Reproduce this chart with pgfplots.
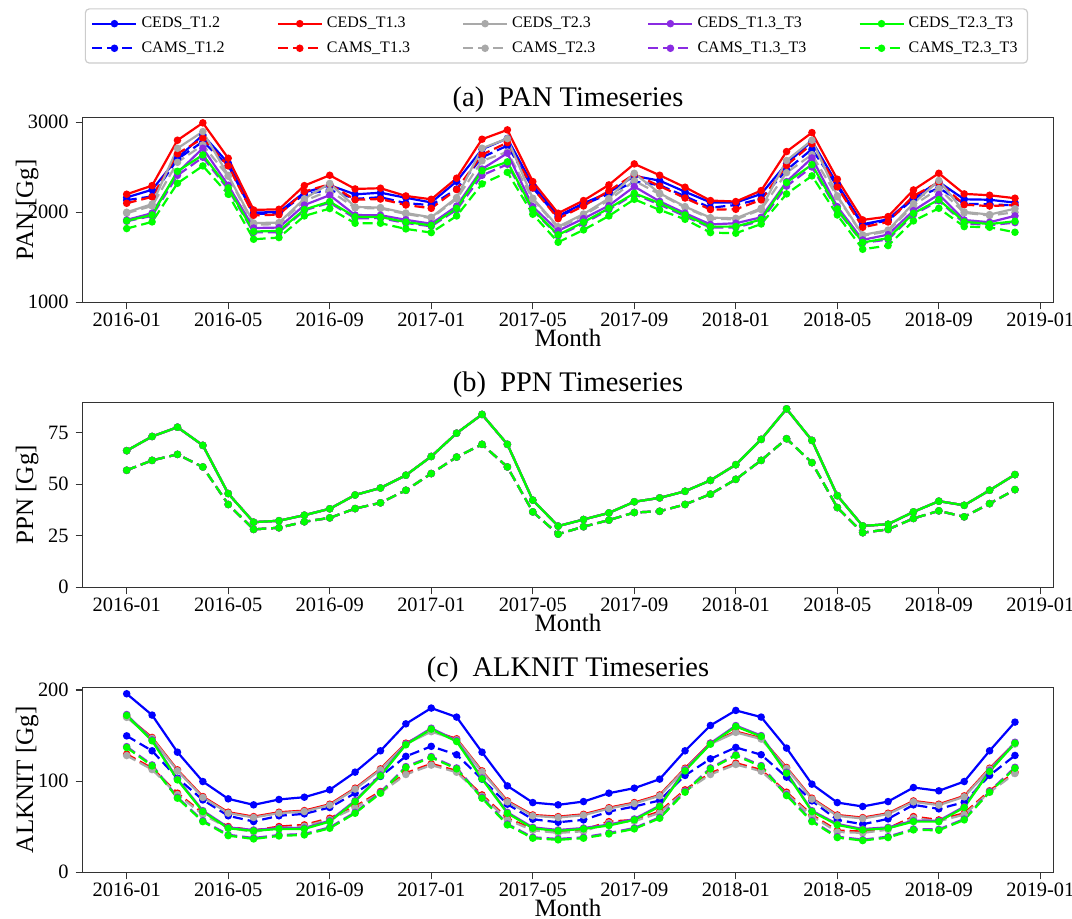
\documentclass[border=0pt]{standalone}
\usepackage{fontspec}
\setmainfont{Liberation Serif}
\usepackage{pgfplots}
\usepackage{pgfplotstable}
\pgfplotsset{compat=1.18}

\definecolor{cblue}{RGB}{0,0,255}
\definecolor{cred}{RGB}{255,0,0}
\definecolor{cgray}{RGB}{169,169,169}
\definecolor{cpurple}{RGB}{138,43,226}
\definecolor{cgreen}{RGB}{0,255,0}

% Panel (a) PAN
\pgfplotstableread{
m R BS BD RD GS GD PS PD NS ND
0 2200 2165 2135 2100 2000 1990 1915 1900 1905 1819
1 2296 2250 2176 2171 2090 2070 1990 1960 1970 1893
2 2800 2600 2590 2650 2710 2555 2440 2410 2455 2322
3 2993 2859 2785 2822 2896 2748 2711 2611 2637 2515
4 2600 2545 2520 2515 2410 2400 2300 2255 2270 2200
5 2026 1996 1981 1966 1880 1861 1825 1776 1786 1700
6 2033 2003 1988 1973 1885 1868 1830 1778 1793 1719
7 2296 2220 2200 2230 2150 2126 2080 2021 2030 1959
8 2411 2300 2248 2311 2320 2241 2190 2106 2118 2041
9 2259 2199 2149 2139 2059 2049 1969 1934 1949 1878
10 2267 2217 2167 2147 2052 2042 1967 1935 1947 1878
11 2181 2161 2101 2081 1991 1981 1916 1881 1891 1815
12 2144 2109 2079 2044 1944 1934 1872 1844 1854 1774
13 2378 2343 2258 2253 2163 2148 2068 2028 2043 1959
14 2811 2700 2610 2640 2711 2571 2480 2410 2461 2315
15 2915 2820 2740 2774 2818 2670 2656 2533 2560 2444
16 2341 2300 2270 2270 2156 2146 2063 2020 2030 1978
17 1989 1959 1944 1929 1839 1824 1794 1739 1749 1667
18 2130 2100 2085 2070 1980 1965 1930 1875 1890 1804
19 2304 2219 2204 2238 2154 2134 2074 2029 2044 1959
20 2537 2404 2341 2422 2433 2350 2285 2200 2211 2144
21 2411 2351 2301 2291 2211 2201 2121 2086 2101 2026
22 2278 2228 2178 2158 2063 2053 1990 1955 1970 1922
23 2130 2110 2050 2030 1940 1930 1865 1830 1840 1774
24 2119 2107 2081 2033 1933 1920 1878 1830 1841 1767
25 2241 2204 2150 2137 2044 2030 1944 1905 1920 1870
26 2674 2540 2470 2520 2574 2440 2340 2290 2330 2204
27 2885 2790 2700 2760 2800 2640 2603 2503 2529 2404
28 2367 2312 2287 2282 2182 2172 2062 2022 2037 1970
29 1915 1867 1860 1833 1748 1740 1693 1660 1665 1589
30 1952 1922 1907 1892 1802 1787 1752 1697 1712 1630
31 2248 2163 2148 2182 2098 2078 2018 1973 1988 1904
32 2433 2337 2270 2333 2353 2263 2198 2128 2140 2044
33 2204 2144 2094 2084 2004 1994 1914 1879 1894 1841
34 2189 2139 2089 2069 1974 1964 1889 1857 1869 1833
35 2156 2107 2076 2081 2040 2000 1960 1885 1900 1778
}\pan

% Panel (b) PPN: S = all CEDS runs, D = all CAMS runs
\pgfplotstableread{
m S D
0 66.3 56.8
1 73.2 61.6
2 77.7 64.5
3 68.9 58.4
4 45.5 40.2
5 31.6 28.1
6 32.3 28.9
7 35.0 31.8
8 38.1 33.7
9 44.8 38.2
10 48.2 41.0
11 54.4 47.1
12 63.5 55.2
13 74.8 63.2
14 83.9 69.4
15 69.4 58.4
16 42.3 36.6
17 29.7 25.8
18 32.9 29.4
19 36.1 32.6
20 41.5 36.3
21 43.4 36.9
22 46.6 40.2
23 51.9 45.2
24 59.5 52.4
25 71.8 61.6
26 86.6 72.1
27 71.3 60.5
28 44.5 38.7
29 29.8 26.5
30 30.6 28.1
31 36.6 33.4
32 41.8 37.1
33 39.8 34.2
34 47.1 40.6
35 54.7 47.4
}\ppn

% Panel (c) ALKNIT
\pgfplotstableread{
m BS RS GS PS NS BD RD GD PD ND
0 195.9 171.0 170.0 173.1 172.1 149.7 129.6 128.1 137.9 136.9
1 172.5 147.9 146.9 145.3 144.3 133.3 114.2 112.7 117.8 116.8
2 131.8 112.4 111.4 102.4 101.4 103.3 86.8 85.3 82.3 81.3
3 99.6 83.1 82.1 67.6 66.6 79.4 64.8 63.3 56.6 55.6
4 80.6 65.9 64.9 49.3 48.3 62.0 50.2 48.7 41.2 40.2
5 74.0 61.1 60.1 46.4 45.4 55.7 45.8 44.3 37.6 36.6
6 79.9 65.9 64.9 48.6 47.6 62.0 50.2 48.7 40.9 39.9
7 82.4 67.7 66.7 48.6 47.6 64.1 52.0 50.5 42.0 41.0
8 90.5 74.7 73.7 56.6 55.6 71.1 59.3 57.8 49.3 48.3
9 109.9 92.3 91.3 78.6 77.6 86.8 72.2 70.7 65.8 64.8
10 133.3 113.5 112.5 106.9 105.9 105.2 88.6 87.1 87.8 86.8
11 162.9 141.7 140.7 140.9 139.9 127.2 108.8 107.3 116.0 115.0
12 180.2 155.3 154.3 158.1 157.1 138.2 119.1 117.6 127.0 126.0
13 170.3 146.5 145.5 144.5 143.5 129.0 111.3 109.8 114.5 113.5
14 131.8 111.3 110.3 103.5 102.5 102.2 84.9 83.4 82.3 81.3
15 94.8 78.3 77.3 65.8 64.8 74.7 59.3 57.8 53.0 52.0
16 76.5 62.9 61.9 49.3 48.3 58.2 47.6 46.1 38.4 37.4
17 74.0 61.1 60.1 46.4 45.4 54.9 44.7 43.2 36.6 35.6
18 77.6 63.6 62.6 48.6 47.6 57.5 46.5 45.0 38.4 37.4
19 86.8 70.9 69.9 52.3 51.3 66.6 55.6 54.1 43.1 42.1
20 92.3 76.5 75.5 58.5 57.5 72.2 57.5 56.0 48.6 47.6
21 102.2 84.9 83.9 73.2 72.2 78.8 66.6 65.1 60.3 59.3
22 133.3 114.2 113.2 112.3 111.3 106.3 90.5 89.0 88.9 87.9
23 161.1 141.7 140.7 141.6 140.6 124.5 108.8 107.3 114.5 113.5
24 177.6 154.5 153.5 161.0 160.0 137.0 119.8 118.3 129.2 128.2
25 170.3 147.2 146.2 150.0 149.0 129.0 112.4 110.9 117.1 116.1
26 136.3 115.0 114.0 109.8 108.8 104.4 87.9 86.4 85.2 84.2
27 96.7 81.3 80.3 67.6 66.6 78.4 62.9 61.4 56.6 55.6
28 76.5 62.9 61.9 53.0 52.0 57.5 45.8 44.3 39.1 38.1
29 72.2 60.0 59.0 47.5 46.5 52.7 44.7 43.2 35.8 34.8
30 77.6 64.8 63.8 49.3 48.3 58.6 48.3 46.8 39.1 38.1
31 93.0 78.3 77.3 56.6 55.6 74.0 61.1 59.6 47.5 46.5
32 89.4 74.7 73.7 56.6 55.6 69.6 57.5 56.0 47.1 46.1
33 99.6 83.8 82.8 72.1 71.1 76.9 64.8 63.3 58.5 57.5
34 133.3 114.2 113.2 111.6 110.6 106.3 89.4 87.9 88.9 87.9
35 164.8 141.7 140.7 142.7 141.7 128.2 109.9 108.4 115.2 114.2
}\alk

\pgfplotsset{
  myaxis/.style={
    scale only axis, width=485.3pt, height=92.5pt,
    anchor=south west,
    xmin=-1.734, xmax=36.51,
    xtick={0,4,...,36},
    xticklabels={2016-01,2016-05,2016-09,2017-01,2017-05,2017-09,2018-01,2018-05,2018-09,2019-01},
    tick pos=left, tick align=outside, major tick length=3.5pt,
    axis line style={black!80, line width=0.6pt},
    every tick/.style={black!80, line width=0.6pt},
    ticklabel style={font=\fontsize{10.2}{12}\selectfont},
    xticklabel style={inner sep=0pt, yshift=-1.4pt},
    /pgf/number format/assume math mode=true,
    /pgf/number format/1000 sep={},
    xlabel={Month},
    xlabel style={at={(axis description cs:0.5,0)}, anchor=base, inner sep=0pt, yshift=-22pt, font=\fontsize{12.5}{15}\selectfont},
    ylabel style={at={(axis description cs:-0.0512,0.5)}, anchor=base, font=\fontsize{12.5}{15}\selectfont},
    every axis title shift=0pt,
    title style={at={(axis description cs:0.5,1)}, anchor=base, yshift=5.2pt, font=\fontsize{14.2}{17}\selectfont},
    legend image code/.code={\draw[mark repeat=2,mark phase=2,#1] plot coordinates {(0pt,0pt) (11pt,0pt) (22pt,0pt)};},
  },
  sol/.style={line width=1.1pt, mark=*, mark size=1.3pt, solid},
  das/.style={line width=1.1pt, mark=*, mark size=1.3pt, dash pattern=on 5pt off 2.5pt, mark options={solid}},
}

\begin{document}
\begin{tikzpicture}
\useasboundingbox (0,0) rectangle (536pt,459.5pt);

% ---------- (a) PAN ----------
\begin{axis}[myaxis, at={(41.35pt,308.35pt)},
  ymin=1000, ymax=3055, ytick={1000,2000,3000},
  title={(a)\ \ PAN Timeseries}, ylabel={PAN [Gg]},
  legend columns=5, legend cell align=left,
  legend style={at={(axis description cs:0.4881,1.4395)}, anchor=center,
    draw=black!20, rounded corners=2pt, line width=0.6pt,
    font=\fontsize{8}{9.5}\selectfont, row sep=1.5pt,
    /tikz/every even column/.append style={column sep=24pt}},
]
\addlegendimage{sol, cblue}\addlegendentry{CEDS\_T1.2}
\addlegendimage{sol, cred}\addlegendentry{CEDS\_T1.3}
\addlegendimage{sol, cgray}\addlegendentry{CEDS\_T2.3}
\addlegendimage{sol, cpurple}\addlegendentry{CEDS\_T1.3\_T3}
\addlegendimage{sol, cgreen}\addlegendentry{CEDS\_T2.3\_T3}
\addlegendimage{das, cblue}\addlegendentry{CAMS\_T1.2}
\addlegendimage{das, cred}\addlegendentry{CAMS\_T1.3}
\addlegendimage{das, cgray}\addlegendentry{CAMS\_T2.3}
\addlegendimage{das, cpurple}\addlegendentry{CAMS\_T1.3\_T3}
\addlegendimage{das, cgreen}\addlegendentry{CAMS\_T2.3\_T3}
\addplot[sol, cblue, forget plot] table[x=m, y=BS] {\pan};
\addplot[das, cblue, forget plot] table[x=m, y=BD] {\pan};
\addplot[sol, cred, forget plot] table[x=m, y=R] {\pan};
\addplot[das, cred, forget plot] table[x=m, y=RD] {\pan};
\addplot[sol, cgray, forget plot] table[x=m, y=GS] {\pan};
\addplot[das, cgray, forget plot] table[x=m, y=GD] {\pan};
\addplot[sol, cpurple, forget plot] table[x=m, y=PS] {\pan};
\addplot[das, cpurple, forget plot] table[x=m, y=PD] {\pan};
\addplot[sol, cgreen, forget plot] table[x=m, y=NS] {\pan};
\addplot[das, cgreen, forget plot] table[x=m, y=ND] {\pan};
\end{axis}

% ---------- (b) PPN ----------
\begin{axis}[myaxis, at={(41.35pt,165.85pt)},
  ymin=0, ymax=89.8, ytick={0,25,50,75},
  title={(b)\ \ PPN Timeseries}, ylabel={PPN [Gg]},
]
\addplot[sol, cblue] table[x=m, y=S] {\ppn};
\addplot[das, cblue] table[x=m, y=D] {\ppn};
\addplot[sol, cred] table[x=m, y=S] {\ppn};
\addplot[das, cred] table[x=m, y=D] {\ppn};
\addplot[sol, cgray] table[x=m, y=S] {\ppn};
\addplot[das, cgray] table[x=m, y=D] {\ppn};
\addplot[sol, cpurple] table[x=m, y=S] {\ppn};
\addplot[das, cpurple] table[x=m, y=D] {\ppn};
\addplot[sol, cgreen] table[x=m, y=S] {\ppn};
\addplot[das, cgreen] table[x=m, y=D] {\ppn};
\end{axis}

% ---------- (c) ALKNIT ----------
\begin{axis}[myaxis, at={(41.35pt,23.35pt)},
  ymin=0, ymax=203, ytick={0,100,200},
  title={(c)\ \ ALKNIT Timeseries}, ylabel={ALKNIT [Gg]},
]
\addplot[sol, cblue] table[x=m, y=BS] {\alk};
\addplot[das, cblue] table[x=m, y=BD] {\alk};
\addplot[sol, cred] table[x=m, y=RS] {\alk};
\addplot[das, cred] table[x=m, y=RD] {\alk};
\addplot[sol, cgray] table[x=m, y=GS] {\alk};
\addplot[das, cgray] table[x=m, y=GD] {\alk};
\addplot[sol, cpurple] table[x=m, y=PS] {\alk};
\addplot[das, cpurple] table[x=m, y=PD] {\alk};
\addplot[sol, cgreen] table[x=m, y=NS] {\alk};
\addplot[das, cgreen] table[x=m, y=ND] {\alk};
\end{axis}
\end{tikzpicture}
\end{document}
